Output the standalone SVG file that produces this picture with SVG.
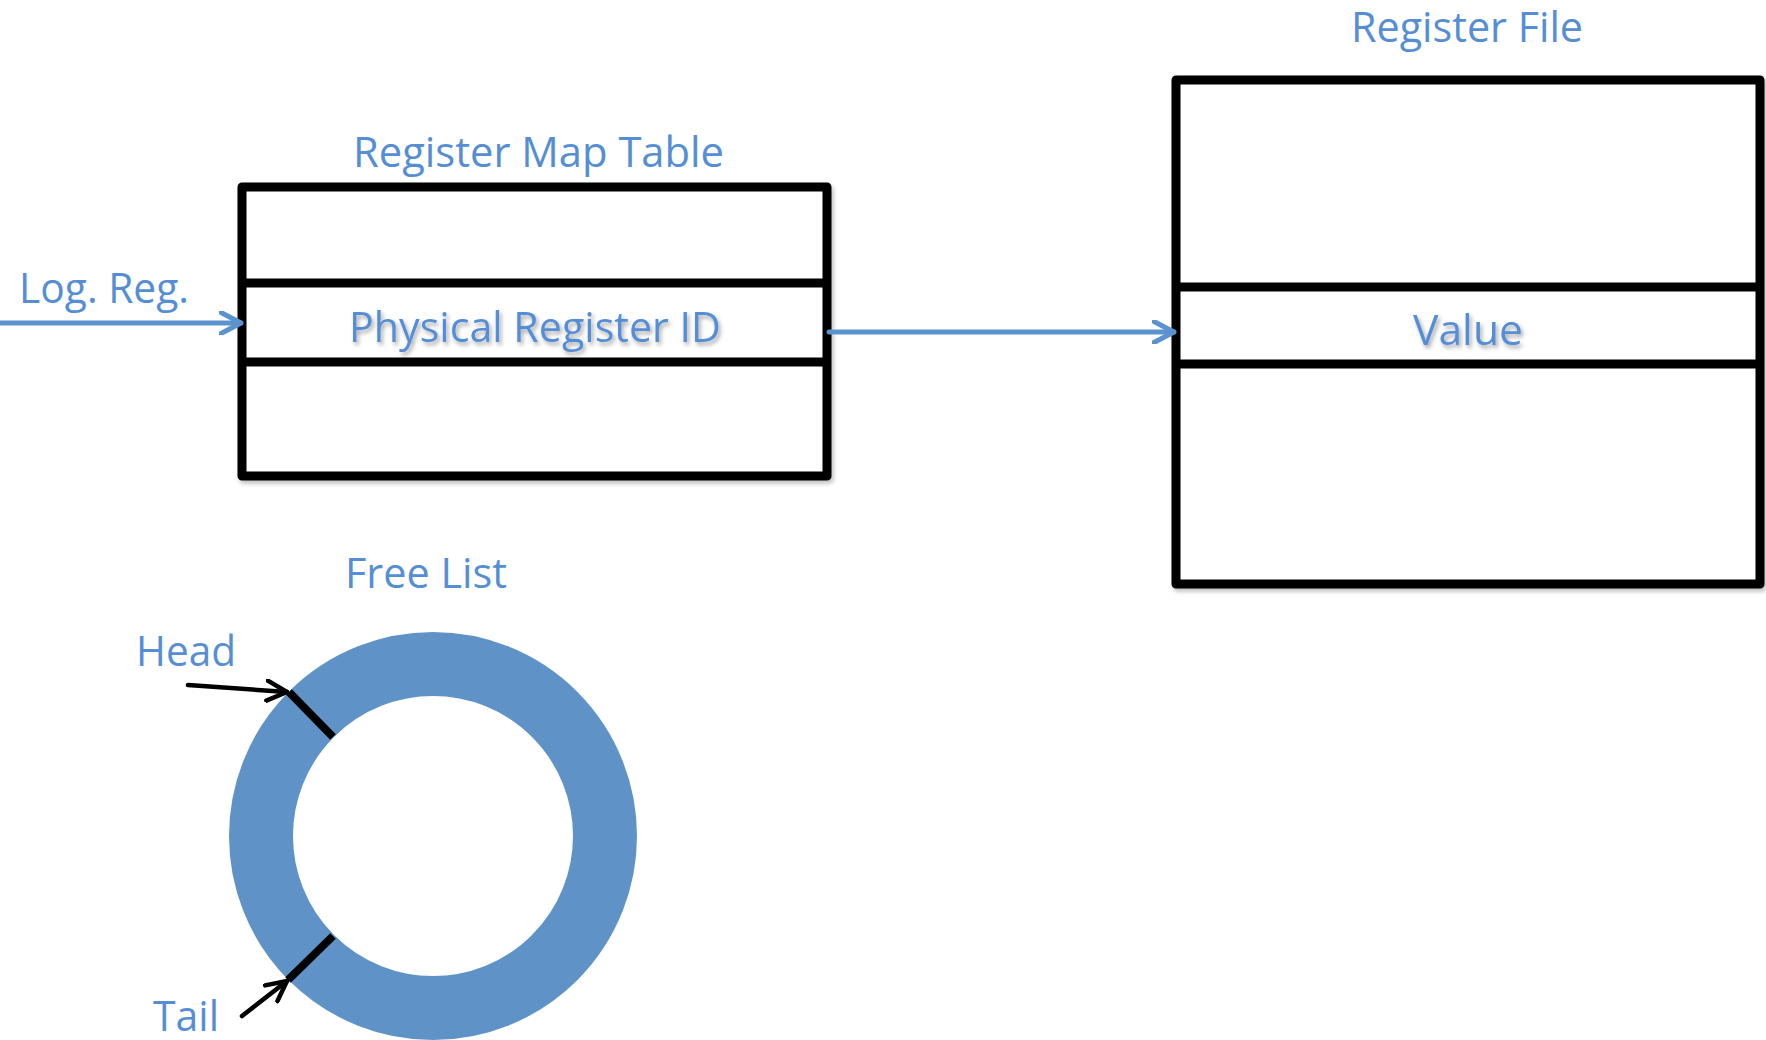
<svg xmlns="http://www.w3.org/2000/svg" width="1766" height="1040" viewBox="0 0 1766 1040">
  <style>
    .lbl { font-family: "Open Sans", "Liberation Sans", sans-serif; font-size: 42px; fill: #558ED5; }
    .box { fill: #ffffff; stroke: #000000; stroke-width: 9; stroke-linejoin: round; }
    .div { stroke: #000000; stroke-width: 9; }
    .blue { stroke: #5B93CF; stroke-width: 5; fill: none; stroke-linecap: round; }
    .black { stroke: #000000; stroke-width: 4.5; fill: none; stroke-linecap: round; }
    .tick { stroke: #000000; stroke-width: 8; }
  </style>
  <defs>
    <filter id="tshadow" x="-10%" y="-30%" width="120%" height="160%">
      <feDropShadow dx="2" dy="3" stdDeviation="2" flood-color="#000000" flood-opacity="0.35"/>
    </filter>
    <filter id="bshadow" x="-5%" y="-5%" width="110%" height="110%">
      <feDropShadow dx="2" dy="3" stdDeviation="2" flood-color="#000000" flood-opacity="0.25"/>
    </filter>
    <marker id="arrBlue" viewBox="0 0 24 24" refX="22" refY="12" markerWidth="24" markerHeight="24" markerUnits="userSpaceOnUse" orient="auto">
      <path d="M2,1.5 L22,12 L2,22.5" fill="none" stroke="#5B93CF" stroke-width="5" stroke-linecap="round" stroke-linejoin="round"/>
    </marker>
    <marker id="arrBlack" viewBox="0 0 24 24" refX="22" refY="12" markerWidth="24" markerHeight="24" markerUnits="userSpaceOnUse" orient="auto">
      <path d="M2,2 L22,12 L2,22" fill="none" stroke="#000000" stroke-width="4.5" stroke-linecap="round" stroke-linejoin="round"/>
    </marker>
  </defs>
  <rect width="1766" height="1040" fill="#ffffff"/>

  <g id="register-map-table">
    <text class="lbl" x="353" y="167" textLength="371" lengthAdjust="spacingAndGlyphs">Register Map Table</text>
    <rect class="box" x="242" y="187" width="585" height="289" filter="url(#bshadow)"/>
    <line class="div" x1="242" y1="283" x2="827" y2="283"/>
    <line class="div" x1="242" y1="362" x2="827" y2="362"/>
    <text class="lbl" x="349" y="342" textLength="372" lengthAdjust="spacingAndGlyphs" filter="url(#tshadow)">Physical Register ID</text>
  </g>

  <g id="register-file">
    <text class="lbl" x="1351" y="42" font-size="38" textLength="232" lengthAdjust="spacingAndGlyphs">Register File</text>
    <rect class="box" x="1176" y="80" width="584" height="504" filter="url(#bshadow)"/>
    <line class="div" x1="1176" y1="287" x2="1760" y2="287"/>
    <line class="div" x1="1176" y1="364" x2="1760" y2="364"/>
    <text class="lbl" x="1413" y="345" textLength="110" lengthAdjust="spacingAndGlyphs" filter="url(#tshadow)">Value</text>
  </g>

  <g id="log-reg">
    <text class="lbl" x="19" y="303" textLength="170" lengthAdjust="spacingAndGlyphs">Log. Reg.</text>
  </g>

  <g id="free-list">
    <text class="lbl" x="345" y="588" textLength="162" lengthAdjust="spacingAndGlyphs">Free List</text>
    <circle cx="433" cy="836" r="172" fill="none" stroke="#5F93C8" stroke-width="64"/>
    <line class="tick" x1="289" y1="692" x2="333" y2="737"/>
    <line class="tick" x1="288" y1="980" x2="333" y2="936"/>
  </g>

  <g id="head">
    <text class="lbl" x="136" y="666" textLength="100" lengthAdjust="spacingAndGlyphs">Head</text>
  </g>

  <g id="tail">
    <text class="lbl" x="153" y="1031" font-size="39" textLength="66" lengthAdjust="spacingAndGlyphs">Tail</text>
  </g>

  <g id="connectors">
    <line class="blue" x1="0" y1="323" x2="241" y2="323" marker-end="url(#arrBlue)"/>
    <line class="blue" x1="829" y1="332" x2="1174" y2="332" marker-end="url(#arrBlue)"/>
    <line class="black" x1="188" y1="685" x2="287" y2="692" marker-end="url(#arrBlack)"/>
    <line class="black" x1="242" y1="1016" x2="287" y2="981" marker-end="url(#arrBlack)"/>
  </g>
</svg>
